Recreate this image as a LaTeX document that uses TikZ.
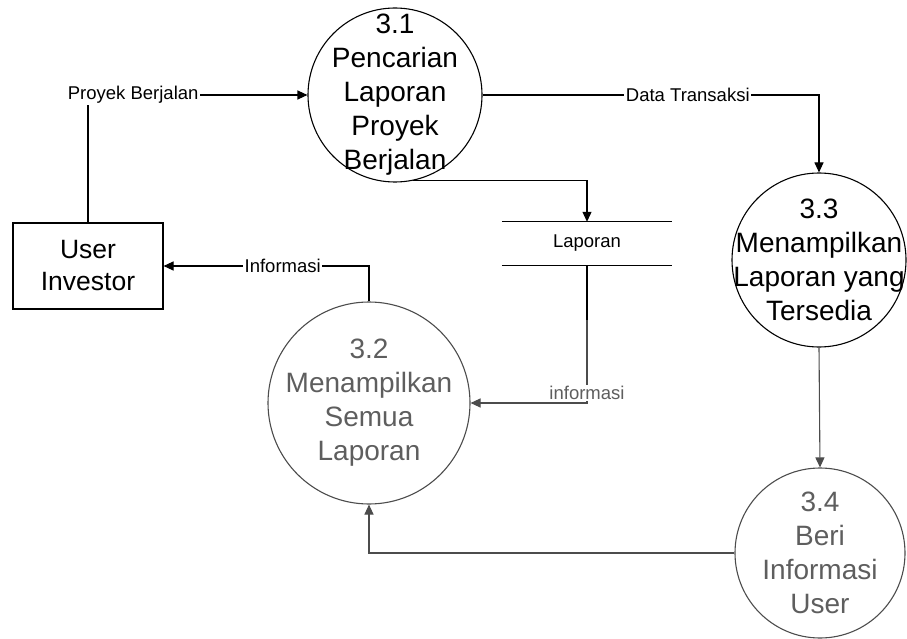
\documentclass[tikz,border=0pt]{standalone}
\usepackage{fontspec}
\setmainfont{Liberation Sans}
\usetikzlibrary{arrows.meta}
\definecolor{dimtext}{HTML}{5E5E5E}
\definecolor{dimline}{HTML}{4C4C4C}
\begin{document}
\begin{tikzpicture}[x=1pt,y=-1pt,
  flow/.style={line width=1.1pt, draw=black},
  dimflow/.style={line width=1.1pt, draw=dimline},
  tip/.style={-{Triangle[length=10pt,width=9pt]}},
  proc/.style={circle, draw, line width=1.1pt, inner sep=0pt},
  dimproc/.style={proc, draw=dimline},
  proctext/.style={align=center, font=\fontsize{28}{34}\selectfont, inner sep=0pt},
  dimproctext/.style={proctext, text=dimtext},
  lbl/.style={font=\fontsize{18.5}{22}\selectfont, fill=white, inner sep=1.5pt},
  entity/.style={draw, line width=1.1pt, minimum width=150pt, minimum height=86pt,
    inner sep=0pt, align=center, font=\fontsize{26.5}{32}\selectfont},
  storebox/.style={minimum width=170pt, minimum height=43pt, inner sep=0pt,
    font=\fontsize{18.5}{22}\selectfont},
]
\useasboundingbox (0,0) rectangle (907,639);

% external entity
\node[entity] (user) at (88,266) {User\\Investor};

% processes
\node[proc, minimum size=174pt] (p31) at (395,95) {};
\node[proctext] (p31t) at (p31) {3.1\\Pencarian\\Laporan\\Proyek\\Berjalan};

\node[dimproc, minimum size=202pt] (p32) at (369,403) {};
\node[dimproctext] (p32t) at (p32) {3.2\\Menampilkan\\Semua\\Laporan};

\node[proc, minimum size=174pt] (p33) at (819,260) {};
\node[proctext] (p33t) at (p33) {3.3\\Menampilkan\\Laporan yang\\Tersedia};

\node[dimproc, minimum size=170pt] (p34) at (820,553) {};
\node[dimproctext] (p34t) at (p34) {3.4\\Beri\\Informasi\\User};

% data store
\node[storebox] (ds) at (587,243.5) {Laporan};
\draw[flow] (ds.north west) -- (ds.north east);
\draw[flow] (ds.south west) -- (ds.south east);

% data flows
\draw[flow, tip] (user.north) |- (p31.west)
  node[lbl, pos=0.603] (lpb) {Proyek Berjalan};
\draw[flow, tip] (p31.east) -| (p33.north)
  node[lbl, pos=0.305] (ldt) {Data Transaksi};
\draw[flow, tip] (p31.-78) -| (ds.north);
\draw[flow, tip] (p32.north) |- (user.east)
  node[lbl, pos=0.71] (linf) {Informasi};

\coordinate (dsfade) at (587,320);
\coordinate (infc) at (587,403);
\draw[flow] (ds.south) -- (dsfade);
\draw[dimflow, tip] (dsfade) -- (infc) -- (p32.east);
\node[lbl, text=dimtext] (linf2) at (587,393) {informasi};

\draw[dimflow, tip] (p33.south) -- (p34.north);
\draw[dimflow, tip] (p34.west) -| (p32.south);
\end{tikzpicture}
\end{document}
